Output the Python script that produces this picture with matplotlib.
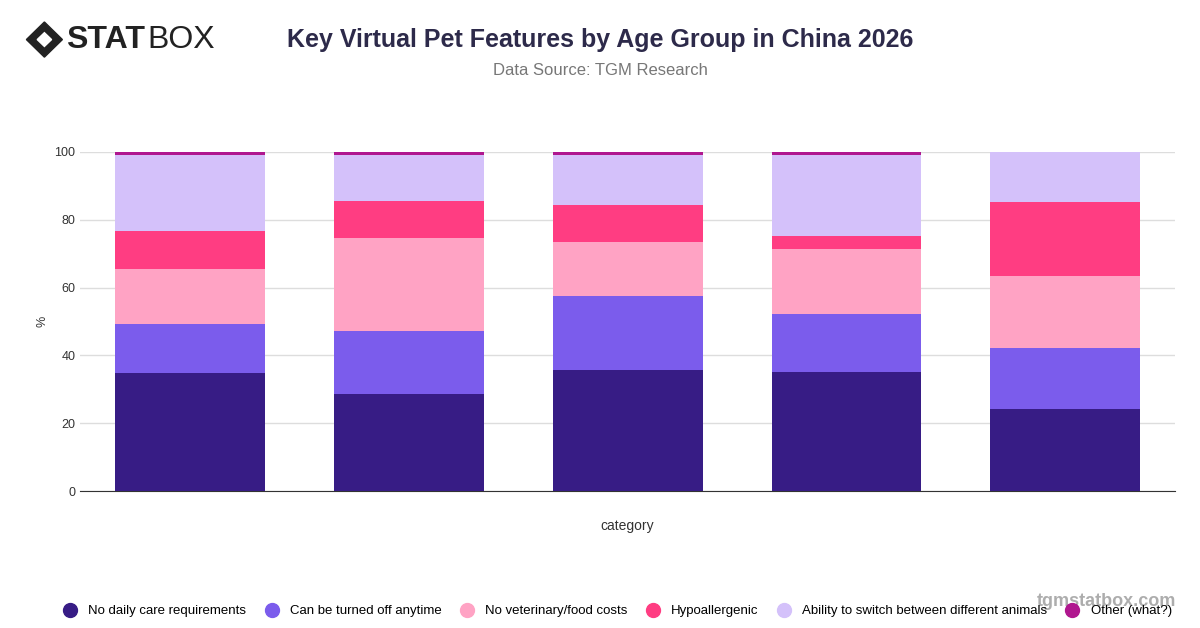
import matplotlib
matplotlib.use("Agg")
import matplotlib.pyplot as plt
from matplotlib.patches import Polygon

plt.rcParams['font.family'] = ['Liberation Sans', 'DejaVu Sans']

categories = ["1", "2", "3", "4", "5"]
series_names = ["No daily care requirements", "Can be turned off anytime", "No veterinary/food costs",
                "Hypoallergenic", "Ability to switch between different animals", "Other (what?)"]
no_daily_care = [34.8, 28.6, 35.7, 35.1, 24.2]
turn_off = [14.5, 18.6, 21.8, 17.1, 18.0]
no_vet = [16.2, 27.4, 16.0, 19.2, 21.2]
hypo = [11.2, 10.9, 10.9, 3.8, 21.9]
switch = [22.4, 13.6, 14.7, 23.9, 14.7]
other = [0.9, 0.9, 0.9, 0.9, 0.0]
series = [no_daily_care, turn_off, no_vet, hypo, switch, other]
colors = ["#371c85", "#7b5cec", "#ffa3c4", "#ff3d82", "#d4c1fa", "#b0178f"]

fig = plt.figure(figsize=(12, 6.28), dpi=100)
ax = fig.add_axes([0.067, 0.218, 0.912, 0.54])
x = list(range(len(categories)))
bottom = [0]*len(x)
for vals, c in zip(series, colors):
    ax.bar(x, vals, bottom=bottom, width=0.685, color=c, zorder=3)
    bottom = [b+v for b, v in zip(bottom, vals)]
ax.set_xlim(-0.5, 4.5)
ax.set_ylim(0, 100)
ax.set_yticks(range(0, 101, 20))
ax.set_xticks([])
ax.grid(axis="y", color="#dddddd", lw=1, zorder=0)
for s in ["top", "right", "left"]:
    ax.spines[s].set_visible(False)
ax.spines["bottom"].set_color("#333333")
ax.tick_params(axis="y", length=0, labelsize=9, colors="#333333")
ax.set_ylabel("%", fontsize=9, color="#333333")
ax.set_xlabel("category", fontsize=10, color="#333333", labelpad=20)

fig.text(0.5, 0.937, "Key Virtual Pet Features by Age Group in China 2026", ha="center", va="center",
         fontsize=18, fontweight="bold", color="#2d2a4a")
fig.text(0.5, 0.887, "Data Source: TGM Research", ha="center", va="center", fontsize=12, color="#777777")

# logo
lx, ly = 0.037, 0.937
fig.patches.append(Polygon([[lx-0.015, ly], [lx, ly+0.028], [lx+0.015, ly], [lx, ly-0.028]],
                           closed=True, transform=fig.transFigure, color="#222222"))
fig.patches.append(Polygon([[lx-0.006, ly], [lx, ly+0.011], [lx+0.006, ly], [lx, ly-0.011]],
                           closed=True, transform=fig.transFigure, color="white"))
fig.text(0.055, 0.937, "STAT", fontsize=23, fontweight="bold", color="#222222", va="center")
fig.text(0.123, 0.937, "BOX", fontsize=23, color="#222222", va="center")

handles = [plt.Line2D([], [], marker="o", ls="", ms=10, color=c) for c in colors]
fig.legend(handles, series_names, loc="center", bbox_to_anchor=(0.512, 0.027), ncol=6,
           frameon=False, fontsize=9.5, handletextpad=0.4, columnspacing=0.9)
fig.text(0.98, 0.035, "tgmstatbox.com", ha="right", fontsize=13, fontweight="bold",
         color="#999999", alpha=0.8)
fig.savefig("out.png", dpi=100)
